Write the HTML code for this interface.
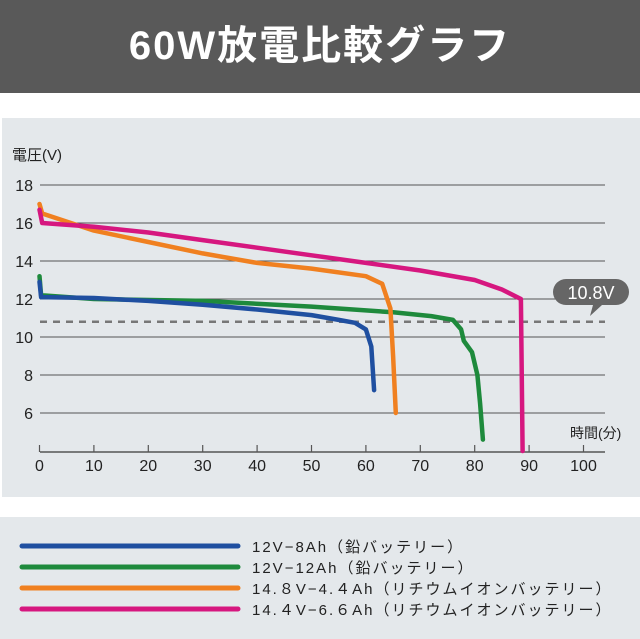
<!DOCTYPE html>
<html><head><meta charset="utf-8"><style>
body{margin:0;width:640px;height:639px;background:#fff;overflow:hidden;font-family:"Liberation Sans","Noto Sans CJK JP",sans-serif}
#title{position:absolute;left:0;top:0;width:640px;height:93px;background:#595959;color:#fff;font-size:40px;font-weight:bold;text-align:center;line-height:93px;letter-spacing:2px}
#chartbg{position:absolute;left:2px;top:118px;width:638px;height:379px;background:#e4e8eb}
#legbg{position:absolute;left:0;top:517px;width:640px;height:122px;background:#e4e8eb}
svg{position:absolute;left:0;top:0}
</style></head><body>
<div id="title">60W放電比較グラフ</div>
<div id="chartbg"></div>
<div id="legbg"></div>
<svg id="svg" width="640" height="639"></svg>
<script>
const xTicks=[0,10,20,30,40,50,60,70,80,90,100];
const yTicks=[6,8,10,12,14,16,18];
const seriesNames=["12V−8Ah（鉛バッテリー）","12V−12Ah（鉛バッテリー）","14.８V−4.４Ah（リチウムイオンバッテリー）","14.４V−6.６Ah（リチウムイオンバッテリー）"];
const seriesColors=["#1f4fa0","#1e8a3c","#f08020","#d6177f"];
const blueX=[0,0.3,10,20,30,40,50,55,58,60,61,61.5];
const blueY=[12.9,12.1,12.05,11.9,11.7,11.45,11.15,10.9,10.75,10.4,9.5,7.2];
const greenX=[0,0.3,10,30,50,65,72,76,77.5,78,79.5,80.5,81,81.5];
const greenY=[13.2,12.2,12.0,11.9,11.6,11.3,11.1,10.9,10.4,9.8,9.2,8.0,6.5,4.6];
const orangeX=[0,0.5,10,20,30,40,50,60,63,64.5,65,65.5];
const orangeY=[17.0,16.5,15.6,15.0,14.4,13.9,13.6,13.2,12.8,11.5,9,6.0];
const pinkX=[0,0.5,10,20,30,40,50,60,70,80,85,88.5,88.8];
const pinkY=[16.7,16.0,15.8,15.5,15.1,14.7,14.3,13.9,13.5,13.0,12.5,12.0,4.0];
const thresholdV=10.8;
const xs=v=>39.5+v*5.44;
const ys=v=>185+(18-v)*19;
const svg=document.getElementById('svg');
const NS='http://www.w3.org/2000/svg';
function mk(tag,attrs,parent){const e=document.createElementNS(NS,tag);for(const k in attrs)e.setAttribute(k,attrs[k]);(parent||svg).appendChild(e);return e;}
yTicks.forEach(v=>{
 const l=mk('line',{x1:40,x2:605,y1:ys(v),y2:ys(v),stroke:'#555','stroke-width':1});
 
 
 const t=mk('text',{x:33,y:ys(v)+6,'text-anchor':'end','font-size':16,fill:'#222'});
 t.textContent=v;
 
 
});
const ax=mk('line',{x1:40,x2:605,y1:452,y2:452,stroke:'#555','stroke-width':1.5});


xTicks.forEach(v=>{
 const tk=mk('line',{x1:xs(v),x2:xs(v),y1:445,y2:452,stroke:'#555','stroke-width':1.2});
 
 
 const t=mk('text',{x:xs(v),y:471,'text-anchor':'middle','font-size':16,fill:'#222'});
 t.textContent=v;
 
 
});
const yt=mk('text',{x:12,y:160,'font-size':15,fill:'#222'});yt.textContent='電圧(V)';


const xt=mk('text',{x:570,y:438,'font-size':14,fill:'#222'});xt.textContent='時間(分)';


const dl=mk('line',{x1:40,x2:605,y1:ys(thresholdV),y2:ys(thresholdV),stroke:'#777','stroke-width':2.5,'stroke-dasharray':'7,6'});


const bub=mk('path',{d:'M566,279 H616 A13,13 0 0 1 616,305 H602 L590,316 L593,305 H566 A13,13 0 0 1 566,279 Z',fill:'#666'});


const bt=mk('text',{x:591,y:299,'text-anchor':'middle','font-size':18,fill:'#fff'});bt.textContent='10.8V';


const sx=[blueX,greenX,orangeX,pinkX],sy=[blueY,greenY,orangeY,pinkY];
const order=[1,0,2,3];
order.forEach(i=>{
 const d=sx[i].map((x,j)=>(j?'L':'M')+xs(x).toFixed(1)+','+ys(sy[i][j]).toFixed(1)).join(' ');
 const p=mk('path',{d:d,fill:'none',stroke:seriesColors[i],'stroke-width':4.5,'stroke-linecap':'round','stroke-linejoin':'round'});
 
 
});
seriesNames.forEach((n,i)=>{
 const y=546+i*21;
 const l=mk('line',{x1:22,x2:238,y1:y,y2:y,stroke:seriesColors[i],'stroke-width':5,'stroke-linecap':'round'});
 
 
 const t=mk('text',{x:252,y:y+6,'font-size':15,fill:'#222','letter-spacing':'2px'});
 t.textContent=n;
 
 
});
</script>
</body></html>
